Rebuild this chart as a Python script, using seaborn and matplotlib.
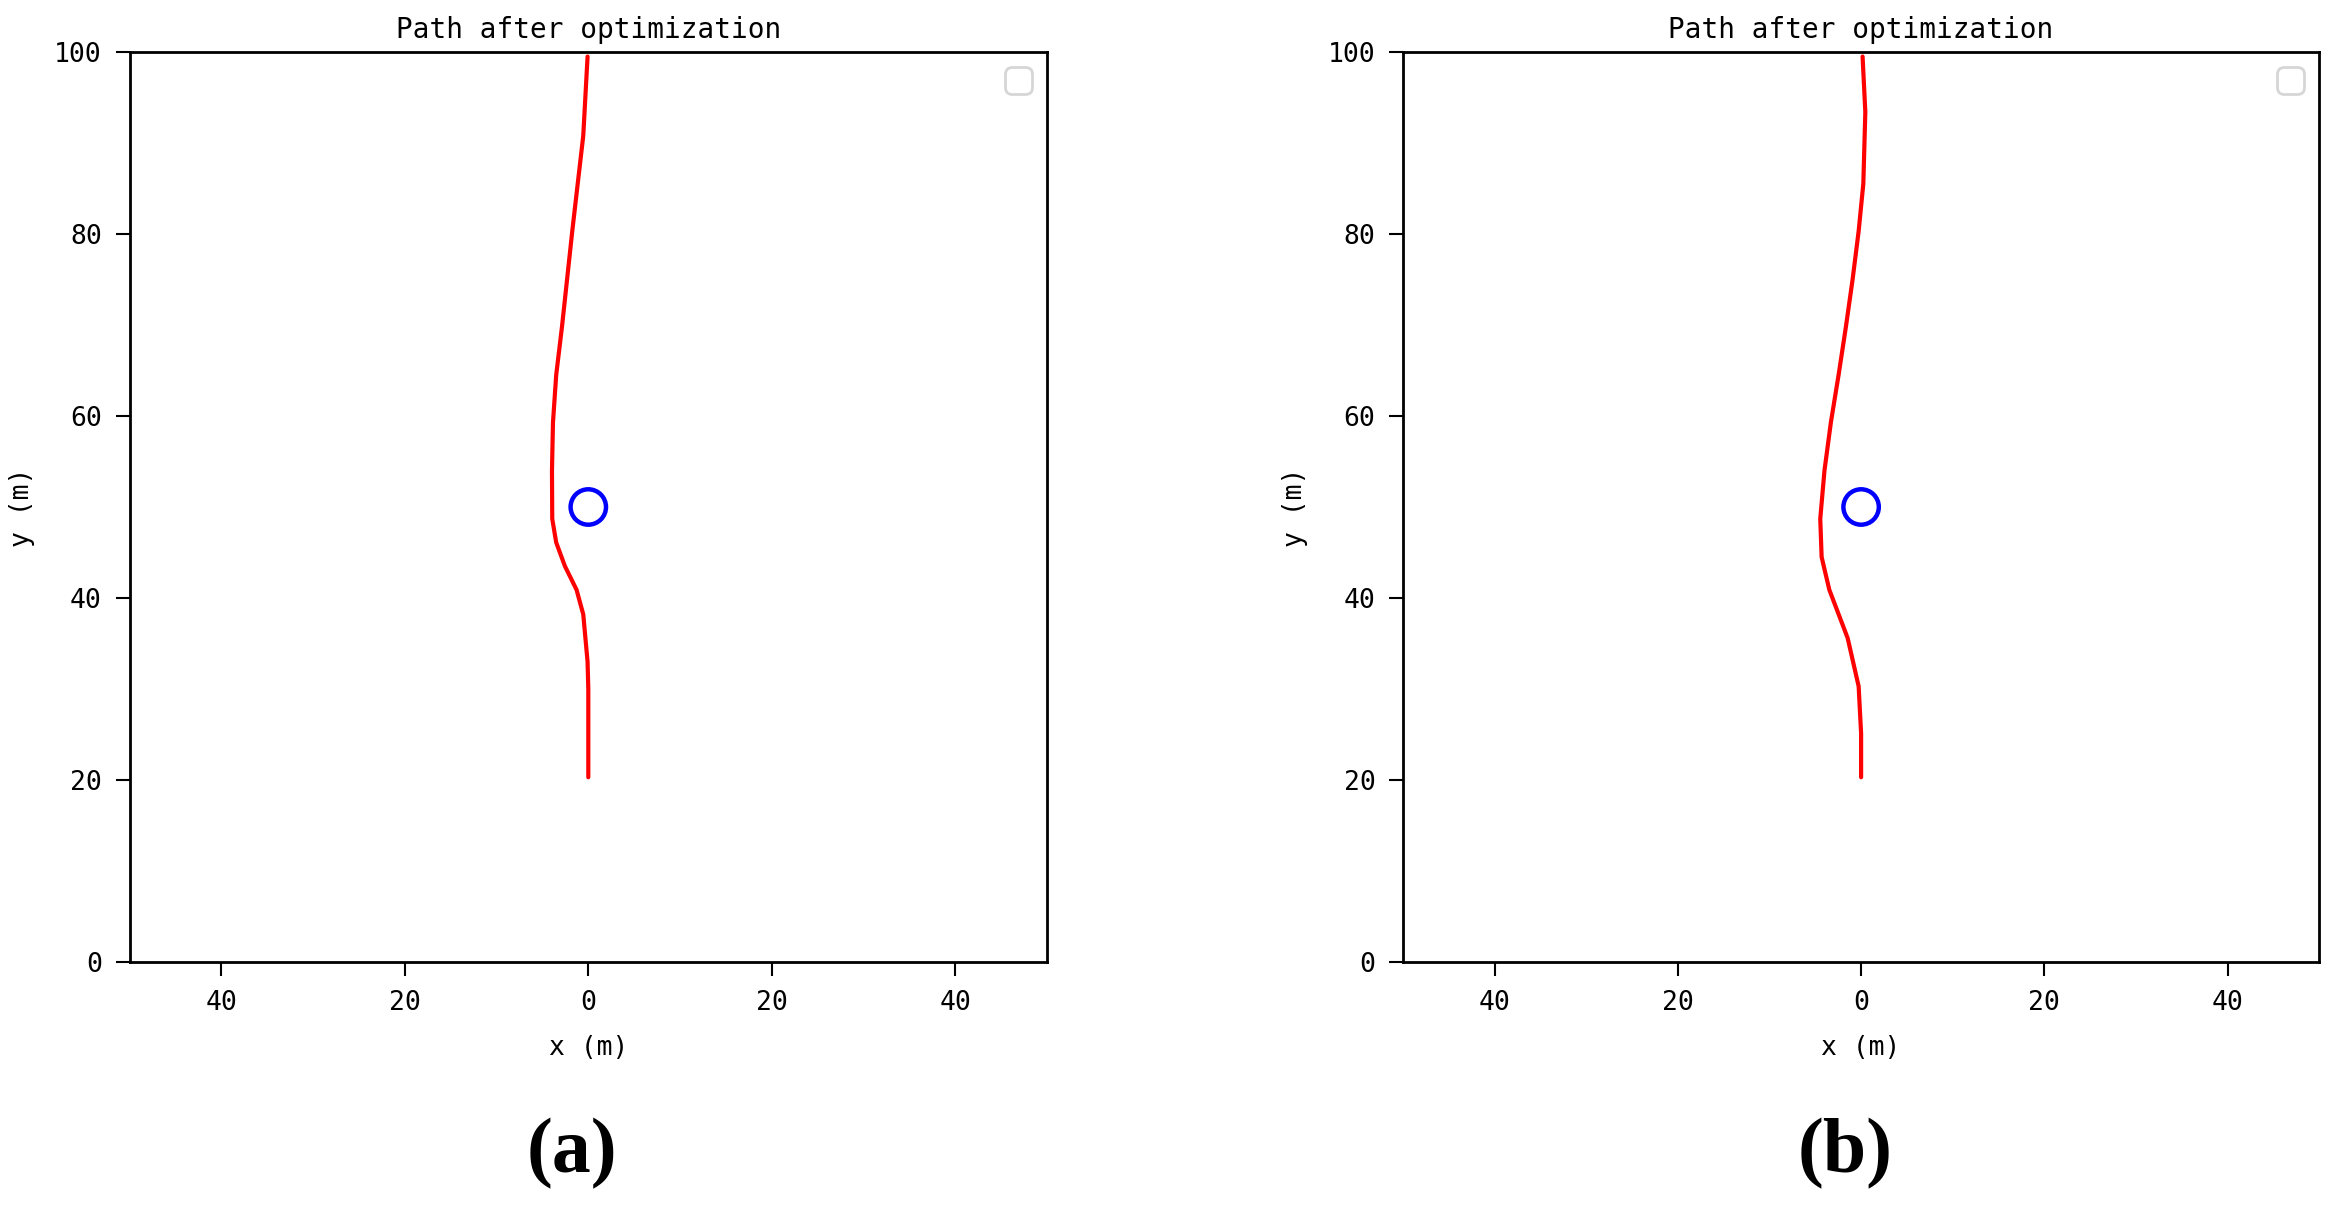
import numpy as np
import pandas as pd
import matplotlib
matplotlib.use("Agg")
import matplotlib.pyplot as plt
import seaborn as sns

# path data
path_a_x = [0.0, 0.0, 0.0, -0.08, -0.55, -1.28, -2.55, -3.5, -3.93, -3.96,
            -3.85, -3.5, -2.87, -1.75, -0.55, -0.08]
path_a_y = [20.3, 25.0, 30.0, 33.0, 38.2, 40.9, 43.5, 46.1, 48.7, 54.0,
            59.3, 64.5, 69.8, 80.3, 90.8, 99.5]

path_b_x = [0.0, 0.0, -0.27, -1.47, -3.47, -4.31, -4.46, -4.0, -3.3, -2.46,
            -1.66, -0.93, -0.27, 0.24, 0.46, 0.16]
path_b_y = [20.3, 25.1, 30.3, 35.6, 40.9, 44.5, 48.7, 54.0, 59.3, 64.5,
            69.8, 75.0, 80.3, 85.5, 93.4, 99.5]

obstacle_x = [0.0]
obstacle_y = [50.0]

x_ticks = [-40, -20, 0, 20, 40]
x_tick_labels = ["40", "20", "0", "20", "40"]
y_ticks = [0, 20, 40, 60, 80, 100]
panel_labels = ["(a)", "(b)"]

sns.set_style("white")
plt.rcParams['font.family'] = ['DejaVu Sans Mono', 'DejaVu Sans']
plt.rcParams['text.color'] = 'black'
plt.rcParams['axes.labelcolor'] = 'black'
plt.rcParams['xtick.color'] = 'black'
plt.rcParams['ytick.color'] = 'black'

fig = plt.figure(figsize=(23.35, 12.11), dpi=100)
ax_a = fig.add_axes([0.0555, 0.2056, 0.3929, 0.7515])
ax_b = fig.add_axes([0.6009, 0.2056, 0.3923, 0.7515])

panels = [(ax_a, path_a_x, path_a_y), (ax_b, path_b_x, path_b_y)]

for i, (ax, px, py) in enumerate(panels):
    df = pd.DataFrame({'x': px, 'y': py})
    sns.lineplot(data=df, x='x', y='y', sort=False, estimator=None,
                 color='red', linewidth=3, ax=ax)
    obs = pd.DataFrame({'x': obstacle_x, 'y': obstacle_y})
    sns.scatterplot(data=obs, x='x', y='y', marker='o', s=650,
                    facecolor='none', edgecolor='blue', linewidth=3.2, ax=ax)

    ax.set_xlim(-50, 50)
    ax.set_ylim(0, 100)
    ax.set_xticks(x_ticks)
    ax.set_xticklabels(x_tick_labels)
    ax.set_yticks(y_ticks)
    ax.tick_params(axis='both', which='major', direction='out', length=10,
                   width=1.5, labelsize=19, color='black', pad=10,
                   bottom=True, left=True)
    for sp in ax.spines.values():
        sp.set_color('black')
        sp.set_linewidth(2)
    ax.set_title('Path after optimization', fontsize=20, pad=10)
    ax.set_xlabel('x (m)', fontsize=19, labelpad=14)
    ax.set_ylabel('y (m)', fontsize=19, labelpad=14)

    # empty legend box, like the original
    leg = ax.legend(handles=[], loc='upper right', frameon=True,
                    prop={'size': 24}, borderaxespad=0.45)
    leg.get_frame().set_edgecolor('#cccccc')
    leg.get_frame().set_linewidth(2)

    bbox = ax.get_position()
    fig.text((bbox.x0 + bbox.x1) / 2 - 0.007, 0.047, panel_labels[i],
             ha='center', va='center', fontsize=56, fontweight='bold',
             family='Liberation Serif', color='black')

fig.savefig('out.png', dpi=100)
